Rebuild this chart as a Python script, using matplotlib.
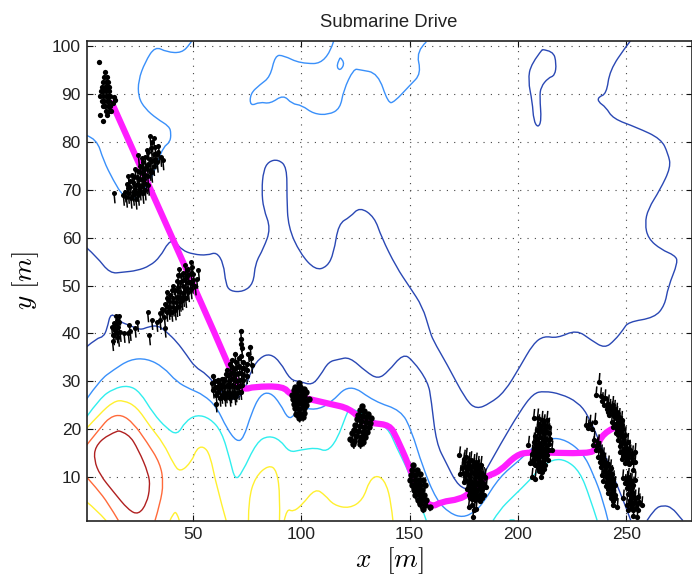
import matplotlib

matplotlib.use("Agg")
import matplotlib.pyplot as plt
from matplotlib.patches import PathPatch
from matplotlib.path import Path

plt.rcParams["font.family"] = ["Liberation Sans", "DejaVu Sans"]
plt.rcParams["mathtext.fontset"] = "cm"

DARK_BLUE = "#2a48b4"
MID_BLUE = "#3a90fa"
CYAN = "#30eeee"
YELLOW = "#fff030"
ORANGE = "#ff6a3a"
DARK_RED = "#b02020"
MAGENTA = "#ff1eff"

X_TICKS = [50, 100, 150, 200, 250]
Y_TICKS = [10, 20, 30, 40, 50, 60, 70, 80, 90, 100]

# contours
BLUE_LOW = [(1, 37.2), (5.7, 39), (8.8, 39.3), (10.5, 41), (12.2, 44.5), (16.5, 42.4), (21, 41.7), (25.7, 40.7), (29.5, 41.4),
            (34, 41.7), (38, 40.3), (42.6, 38.3), (47.2, 35.5), (51, 33), (56.5, 31.5), (61, 28.9), (65.7, 26.8), (70.3, 26.1),
            (74, 28.2), (77, 32.4), (81, 35), (85.7, 35.8), (90.3, 34.1), (95, 30.3), (99.5, 30), (105, 29.2), (108.9, 31.3),
            (112.6, 34.1), (117.2, 34.6), (122.3, 35.1), (130, 32), (135.4, 30.5), (140, 32), (147, 35.8), (151.5, 34.4),
            (158.5, 29.9), (160, 26.1), (162.3, 17.1), (167, 12.9), (171.5, 8.8), (176, 7.4), (180, 7.5), (184, 10.5),
            (192, 17), (200.8, 23.7), (207, 27.5), (212, 28), (219.8, 27.4), (227.5, 25.7), (232.3, 23), (238, 17), (246, 8),
            (250, 3.5), (252, 1)]
BLUE_BUMP = [(259.5, 1), (263, 3.5), (267, 4.2), (271, 3.7), (275, 1.5), (276, 1)]
BLUE_MAIN = [(1, 57.9), (5.7, 56), (11.8, 52.5), (18, 52.8), (24.2, 53.1), (30.3, 54.1), (35, 56), (38.8, 59.1), (41.8, 59.3),
             (44.9, 57.4), (50.3, 56.5), (56.8, 56.3), (61, 57), (64.2, 54.6), (65.2, 50.4), (67.2, 48.8), (73.4, 48.7),
             (78, 50.4), (78.8, 54.6), (82.6, 57.7), (86, 61.9), (82.6, 66), (81.8, 69.9), (82.6, 74), (85, 75.9), (89.5, 76.3),
             (93.4, 74.7), (93.4, 68.5), (94, 62.2), (99.5, 56.7), (106.5, 53.2), (112, 53.9), (115, 56.7), (117.2, 62.9),
             (122.6, 64.3), (127, 66.4), (133.8, 64.3), (137, 60.1), (143.8, 53.9), (150, 49.7), (156, 45.6), (159.2, 40.7),
             (160.8, 38.6), (167, 33.8), (176, 26.1), (180.8, 24.2), (187, 25.4), (193.8, 27.8), (200.8, 33), (207, 37.9),
             (212, 39.5), (218, 39), (227, 40.8), (233.8, 38.6), (240, 36.9), (244.6, 38.6), (248.5, 40.8), (250.8, 42.4),
             (263, 43.3), (267.7, 45.9), (269.2, 49.7), (273.8, 54.9), (272.3, 56.3), (266, 57.5), (260, 59.8), (258.5, 62.9),
             (260, 66), (265.4, 69.9), (270.5, 74.7), (269.2, 77.5), (266, 80.6), (254.6, 83), (243.8, 84.8), (240.5, 87.2),
             (237, 88.3), (237, 89.3), (240.8, 90), (242.3, 94.9), (250, 100), (251.8, 101)]
BLUE_ISLAND = [(211.2, 99.2), (216.2, 99), (217.7, 96.3), (217, 93.8), (213.9, 93.3), (210.5, 91.4), (210, 89.3), (210.8, 84.4),
               (209.2, 82.9), (207.2, 84.4), (206.6, 88.3), (204.6, 92.8), (206, 96.3), (211.2, 99.2)]
MID_LEFT = [(1, 81.3), (5.7, 80.6), (8.8, 76.1), (13.4, 71.9), (18, 68.5), (24, 68), (28, 70), (31.8, 73.3), (34, 76), (36.5, 78.9),
            (39.5, 79.9), (40, 81.7), (39.2, 83.2), (33.4, 84.8), (28, 86.9), (24.9, 89.3), (24.9, 92.8), (28, 96.6), (32.6, 99.9),
            (38, 98.7), (44.9, 98.5), (48.8, 100.4), (49.5, 101)]
MID_TOP = [(115, 101), (111.8, 96.3), (99.5, 96.3), (91.8, 98), (88, 98), (85.7, 93.5), (81, 91.9), (76.5, 90), (76.5, 87.4),
           (81, 88.3), (85.7, 87.9), (91.8, 89.8), (95.7, 87.9), (100.3, 87.6), (105.7, 85.8), (112.6, 85.6), (118, 86.9),
           (119.5, 90.7), (124.2, 95.2), (127, 95), (135.4, 94.3), (140.1, 88), (143, 88.3), (150, 91.7), (155.4, 94.2),
           (153, 98.9), (157.7, 100.8)]
MID_RING = [(118, 97.5), (120.3, 96.6), (118, 94.7), (116, 95.9), (118, 97.5)]
MID_LOW = [(1, 26.3), (7.2, 30.3), (13.4, 32.4), (21, 34.6), (28.8, 34.8), (36.5, 33), (42.6, 29.9), (48.8, 28.4), (55, 27.2),
           (61, 24.7), (65.7, 20.2), (70.3, 17.4), (73.4, 18.1), (77, 23.3), (81, 27.2), (85.7, 27.8), (90.3, 25.4), (94, 22.1),
           (97, 23), (99.5, 24.7), (106.5, 24), (113.4, 25.4), (122.3, 29.6), (133.8, 25.8), (146, 24), (150.8, 19.9), (156, 12.2),
           (162.3, 5.3), (168.5, 2.5), (174.6, 1.6), (180, 2.8), (183.8, 4.6), (191.5, 10.1), (200.8, 13.6), (207, 16.4),
           (214.6, 18.3), (222.3, 17.8), (230, 15), (234.6, 10.8), (239.2, 5.3), (241.5, 1)]
CYAN_LEFT = [(1, 22.6), (7.2, 26.5), (13.4, 28.5), (20.3, 29.2), (25.7, 27.8), (31.8, 23.3), (38, 20.2), (42.9, 18.8), (46.5, 21.6),
             (51.8, 23.1), (58, 22.3), (63.4, 19.5), (67.2, 13.6), (69.5, 9.4), (72.6, 10.8), (79.5, 17.4), (85, 18.7), (90.3, 17.8),
             (94.6, 15.2), (99.5, 15.7), (107.2, 16.2), (111.8, 15.3), (116.5, 17.8), (121, 23.3), (122.6, 24.7), (131.5, 22.3),
             (140, 20.4), (143.8, 16.4), (150, 10.8), (156, 3.2), (157.7, 1)]
CYAN_RIGHT = [(188.5, 1), (191.5, 3.2), (197.7, 6), (205.4, 9.4), (210, 11.9), (216.2, 13.8), (222.3, 13.6), (228.5, 11.2), (233, 6),
              (236.5, 1)]
CYAN_TINY = [(196, 1), (197.2, 1.3), (198.5, 1)]
YELLOW_LEFT = [(1, 20.2), (7.2, 23.3), (13.4, 25.8), (18, 26.1), (24.2, 24.7), (30.3, 20.6), (36.5, 17.1), (41, 12.9), (44.2, 11),
               (49.5, 13.3), (51.8, 16), (55, 16.5), (58, 14.7), (61, 8.1), (65.4, 1)]
YELLOW_CORNER = [(1, 4.9), (5.7, 3.2), (10, 1)]
YELLOW_SMALL = [(39.5, 1), (41, 2.5), (42.6, 2.8), (43.8, 1)]
YELLOW_MID = [(75.7, 1), (75.7, 5.3), (78.8, 10.1), (85, 12.6), (88.8, 11.5), (90.3, 6), (90, 1)]
YELLOW_RIGHT = [(92.2, 1), (93.4, 3.5), (96.2, 2.8), (100.3, 4.2), (106.5, 7.7), (111, 6.3), (115, 4.2), (122.3, 3.5), (128.5, 5.3),
                (131.5, 9.4), (135.4, 10.5), (139.2, 8.8), (141.5, 4.6), (142.3, 1)]
ORANGE_TOP = [(1, 16.7), (7.2, 20.2), (11.8, 22.6), (17.2, 23.1), (22.6, 21.3), (28.8, 17.4), (35, 12.9), (36.5, 8.8), (35, 4.6),
              (32.6, 1)]
ORANGE_LOW = [(1, 10.1), (5.7, 7.7), (11, 4.6), (15.7, 1)]
RED_RING = [(15.7, 19.7), (20.3, 19.2), (25, 15.7), (29.6, 10.8), (30.3, 8), (28.8, 4.6), (25, 2.2), (20.3, 3.2), (13.4, 7), (7.2, 10.5),
            (4.5, 13.6), (5, 16.4), (10.4, 18.8), (15.7, 19.7)]

# the driven track
TRACK = [(12.8, 88), (53.4, 47), (66.5, 33.4), (70, 29.6), (74, 28.3), (78, 28.9), (91.8, 29), (95, 27.2), (104, 26.3), (113.4, 25.3),
         (122.3, 24.4), (128.5, 21.6), (133, 21.3), (140.8, 20.9), (143.8, 18.5), (150, 12.2), (153.8, 6.7), (160, 3.7), (164.6, 4.9),
         (173, 5.4), (177.7, 6.7), (184.6, 10.1), (191.5, 11.2), (199.2, 14.7), (205.4, 15.3), (233, 14.9), (236, 16), (239.2, 19.2),
         (243.8, 20.2)]

CLOUD_1 = [(9.5, 94.5), (9.2, 93.5), (10.3, 93.5), (8.6, 92.5), (9.8, 92.5), (10.9, 92.5), (8.2, 91.5), (9.4, 91.5), (10.6, 91.5),
           (11.3, 91.5), (7.6, 90.5), (8.8, 90.5), (10, 90.5), (11.2, 90.5), (7.4, 89.5), (8.6, 89.5), (9.8, 89.5), (11, 89.5), (12, 89.5),
           (8, 88.5), (9.2, 88.5), (10.4, 88.5), (11.6, 88.5), (8.4, 87.5), (9.6, 87.5), (10.8, 87.5), (12, 87.5), (10.2, 86.5), (11.5, 86.5),
           (12.4, 86.5), (6.6, 96.6), (13.8, 89.4), (14.2, 88.6), (13.2, 88), (7.2, 85.5), (10.3, 85.5), (8.5, 84.4)]
CLOUD_2 = [(30.3, 81.1), (31.9, 80.8), (31.1, 79.9), (34.2, 79.2), (32.6, 78.9), (29.5, 77.8), (31.9, 77.5), (34.2, 77.8), (28, 76.8),
           (30.3, 76.4), (32.6, 76.4), (35.2, 76.9), (36.2, 76.2), (24.9, 77.3), (27.2, 75.8), (29.5, 75.4), (31.9, 75), (25.7, 75),
           (28, 74.4), (30.3, 74), (23.4, 74.4), (25.7, 73.7), (28, 73), (21.9, 73), (24.2, 72.6), (26.5, 72.3), (20.3, 72.8), (22.6, 71.6),
           (24.9, 71.2), (27.2, 71.2), (29.5, 70.9), (19.6, 71.2), (21.1, 70.5), (23.4, 70.2), (25.7, 69.9), (28, 69.9), (18.8, 69.5),
           (20.3, 69.2), (22.6, 68.8), (24.9, 68.8), (18, 68.8), (13.7, 69.3),
           (26.5, 76.5), (28.8, 78.2), (30.9, 78.6), (33.4, 77.4), (26.6, 74.7), (29, 75), (31, 76), (33.6, 75.7), (24.6, 73.8), (26.9, 73.6),
           (29.2, 72.8), (31, 73.6), (22.8, 72.6), (25.1, 72.3), (27.4, 72.2), (20.9, 71.9), (23.8, 71), (26.2, 70.8), (28.6, 71.2), (20.3, 70.4),
           (22.3, 69.6), (24.6, 69.6), (27, 69.2), (19.4, 68.4), (21.5, 68.2), (23.8, 68)]
CLOUD_3 = [(49.2, 54.9), (46.5, 54.2), (43.7, 53.5), (49.8, 53.9), (52.6, 53.2), (47.2, 53.2), (44.6, 52.1), (43.1, 52.1), (48, 52.1),
           (50.3, 52.5), (46.5, 51.4), (51.8, 51.4), (48.8, 50.7), (44.2, 50.7), (41.1, 50), (45.7, 50), (51.1, 50), (41.9, 49), (44.2, 48.7),
           (47.2, 49.4), (38, 48.7), (39.5, 48), (42.6, 47.6), (45.7, 47.6), (38, 47.3), (41.1, 46.6), (44.2, 46.6), (37.2, 46.2), (39.5, 45.5),
           (42.6, 45.5), (35.7, 45.2), (38, 44.5), (40.3, 44.5), (34.9, 44.2), (36.9, 43.5), (41.9, 44.8), (29.2, 44.4), (33.4, 42.4),
           (31.1, 42.8), (34.9, 42.8), (37.2, 41.2), (30, 39.6), (24.5, 42.4), (20.8, 41.7), (23.4, 41.2), (21.1, 40.5), (20.3, 40),
           (18.3, 40.1), (16.2, 43.7), (14.9, 42.8), (13.9, 42.1), (12.6, 41.4), (15.4, 41.4), (14.2, 40.7), (16.5, 40.3), (13.4, 39.6),
           (13, 38.4), (15.7, 39.3),
           (47.6, 53.5), (45.5, 52.6), (49.2, 52.7), (46.9, 51.9), (50.3, 51.2), (42.9, 51), (45.4, 51.1), (47.7, 50.7), (49.7, 50.4), (43.3, 49.8),
           (46.4, 49.2), (49.2, 49.2), (40.3, 49), (43, 48.8), (45.5, 48.5), (48, 48.6), (40.8, 47.5), (43.9, 47.7), (46.7, 47.4), (39.1, 46.7),
           (42.4, 46.6), (45, 46.9), (37.9, 45.8), (41, 45.6), (43.6, 45.7), (36.5, 44.8), (39, 44.9), (14.2, 41.9), (15.8, 42.4), (13.6, 41),
           (15, 40), (14.8, 43.6)]
CLOUD_4 = [(72.1, 40.5), (72.3, 38.9), (72.3, 37.9), (72.6, 36.9), (76.5, 37.2), (75.7, 35.8), (76.9, 34.8), (77.2, 33.4), (69.5, 35.8),
           (68, 34.4), (71.1, 34.8), (73.4, 34.1), (74.9, 33.7), (65.7, 32.4), (68, 33), (70.3, 33), (72.6, 32.7), (74.9, 32.4), (66.5, 31.3),
           (68.8, 31.7), (71.1, 31.7), (73.4, 31.3), (64.2, 30.6), (67.2, 30.3), (69.5, 30.3), (71.8, 30.3), (59.5, 31.2), (61.8, 30.3),
           (63.7, 30.6), (58.8, 29.6), (61.1, 28.9), (63.4, 29.2), (65.7, 29.2), (68, 29.2), (70.3, 28.9), (72.6, 29.2), (59.5, 28.2),
           (61.8, 27.9), (64.2, 27.9), (66.5, 27.9), (68.8, 27.9), (71.1, 27.9), (62.6, 26.5), (64.9, 26.5), (67.2, 26.5), (69.5, 26.8),
           (60.8, 25.3),
           (69.8, 34), (72.2, 35.3), (67.2, 33.6), (69.2, 32.5), (71.5, 33.2), (73.8, 32.9), (65.4, 31.6), (67.6, 31.8), (70, 31.5), (72.4, 31.7),
           (74.8, 31.2), (62.2, 29.6), (64.6, 30), (66.7, 30), (68.7, 30.8), (70.6, 30), (73, 30.4), (60.2, 30), (60.4, 28.9), (62.6, 28.7),
           (64.5, 28.8), (66.9, 28.8), (69.1, 28.9), (71.4, 29), (60.8, 27.2), (63.4, 27.1), (65.5, 27.2), (67.6, 27.2), (70, 27.4), (72.2, 27.9)]
CLOUD_5 = [(98.8, 29.6), (97.2, 28.9), (99.5, 28.9), (101.1, 28.5), (96.5, 28.2), (98.3, 28), (100.3, 27.8), (102.3, 27.7), (95.7, 27.1),
           (97.7, 27.1), (99.5, 27), (101.4, 27), (103.4, 26.4), (96.1, 26.3), (98, 26.1), (99.8, 26.1), (101.8, 25.9), (96.5, 25.4), (98.3, 25.2),
           (100.3, 25.2), (102.3, 25.1), (97.2, 24.4), (99.2, 24.2), (101.1, 24.4), (97.7, 23.3), (99.5, 23.3), (101.4, 23.5), (99.2, 22.4),
           (100.8, 22.6)]
CLOUD_6 = [(128, 24.9), (126.9, 24), (129.1, 23.8), (130.6, 23.3), (126, 23.1), (128, 22.8), (130, 22.6), (132.1, 22.3), (125.7, 22.1),
           (127.7, 21.8), (129.7, 21.6), (131.8, 21.4), (124.9, 21), (126.9, 20.8), (129.1, 20.5), (131.1, 20.5), (124.4, 19.9), (126.4, 19.6),
           (128.4, 19.5), (130.3, 19.5), (123.4, 19.2), (125.4, 18.7), (127.5, 18.5), (129.5, 18.5), (122.6, 18.1), (124.4, 17.6), (126.9, 17.6),
           (128.7, 17.4), (124.1, 16.9), (127.2, 16.9)]
CLOUD_7 = [(151.5, 12.6), (151, 11.5), (153.4, 11.5), (150.6, 10.5), (152.6, 10.5), (154.9, 10.6), (150.3, 9.4), (152.3, 9.4), (154.3, 9.4),
           (156.4, 9.4), (151, 8.4), (153, 8.4), (155, 8.4), (156.9, 8.4), (151.8, 7.4), (153.8, 7.4), (155.8, 7.4), (152.6, 6.3), (154.6, 6.3),
           (156.6, 6.3), (153.7, 5.3), (155.7, 5.3), (157.7, 5.3), (154.9, 4.4), (156.9, 4.2), (159.2, 3.9), (156.1, 3.5)]
CLOUD_8 = [(173, 14.6), (176.1, 14.3), (178.2, 13.6), (180.7, 13.3), (182.9, 12.6), (174.9, 13.3), (177.2, 12.6), (179.5, 12.2), (181.8, 11.9),
           (174.1, 11.9), (176.4, 11.5), (178.7, 11.2), (181, 10.8), (183.3, 10.8), (173.3, 10.7), (175.6, 10.3), (177.9, 10), (180.2, 9.8),
           (182.5, 9.6), (184.8, 10), (174.9, 9.1), (177.2, 8.7), (179.5, 8.6), (181.8, 8.4), (184.1, 8.7), (176.4, 7.5), (178.7, 7.4), (181, 7.4),
           (183.3, 7.5), (185.3, 7.9), (177.2, 6.3), (179.5, 6.1), (181.8, 6.1), (184.1, 6.3), (180.2, 5.3), (182.5, 5.1), (178.7, 4.2), (177.2, 3.8),
           (180.7, 3.5), (179.8, 3.2), (179.2, 1.8), (177.9, 5.6),
           (175.2, 13.9), (177.4, 13.4), (179.6, 13), (181.6, 12.6), (175.5, 12.4), (178, 12), (180.4, 11.5), (182.5, 11.2), (174.8, 11), (177, 10.7),
           (179.5, 10.6), (182, 10.3), (184, 10.3), (176, 9.5), (178.3, 9.2), (180.7, 9), (183.1, 9.1), (177.5, 8), (179.8, 7.9), (182.4, 7.8),
           (184.5, 8), (178, 6.9), (180.3, 6.7), (182.7, 6.7), (178.8, 5.4), (181.2, 5.6), (183.3, 5.6)]
CLOUD_9 = [(207.2, 22.3), (211, 21.9), (213.3, 21.9), (209.5, 21.2), (211.8, 20.9), (214.1, 20.5), (208.7, 19.9), (211, 19.7), (213.3, 19.5),
           (207.9, 18.6), (210.2, 18.5), (212.5, 18.3), (214.8, 18.1), (207.2, 17.4), (209.5, 17.2), (211.8, 17.1), (214.1, 16.9), (204.8, 16.7),
           (207.2, 16), (209.5, 16), (211.8, 15.8), (214.1, 15.7), (215.6, 15.7), (206.4, 14.9), (208.7, 14.9), (211, 14.6), (213.3, 14.6),
           (206.8, 13.7), (209, 13.6), (211.5, 13.5), (213.6, 13.6), (205.6, 13), (207.9, 12.6), (210.2, 12.4), (212.5, 12.6), (209.9, 11.4),
           (211.8, 11.7), (206.4, 10), (207.9, 9.7), (210.5, 10),
           (209, 22.4), (212, 21.2), (210.3, 20.5), (212.5, 20.2), (209.9, 19.2), (212, 19), (214.2, 19.3), (208.8, 18), (211.3, 17.8), (213.6, 17.7),
           (208.3, 16.8), (210.6, 16.6), (213, 16.4), (208.3, 15.4), (210.6, 15.2), (212.9, 15.2), (207.6, 14.3), (209.9, 14.3), (212.2, 14), (206.8, 13),
           (209, 13), (211.3, 12.9), (209, 12), (211, 11.2)]
CLOUD_10 = [(237.4, 29.9), (236, 27.1), (238.1, 26.9), (240.1, 26.5), (241.7, 25.4), (239.7, 25.1), (243.7, 25.1), (240.9, 24.2), (243.2, 24),
            (245.5, 23.7), (242.1, 23), (244.3, 22.8), (246.7, 22.6), (247.8, 22), (243.2, 21.6), (245.5, 21.4), (247.8, 20.9), (244, 20.5),
            (246.3, 20.2), (248.6, 20), (245.2, 19.2), (247.4, 18.8), (249.5, 18.8), (246.3, 17.8), (248.6, 17.6), (250.6, 17.4), (247, 16.5),
            (249.4, 16.2), (251.4, 16), (247, 15.3), (249.4, 15.1), (251.7, 15), (254, 15.3), (247.8, 13.8), (250.1, 14), (252.4, 14), (249.4, 12.9),
            (251.4, 12.8), (254, 13.3), (231.4, 20.9), (233.2, 21.2), (235.5, 21.6), (232.4, 20.2), (234, 20), (235.1, 17.8), (237.1, 17.1),
            (234.8, 16.7), (237.8, 15.7), (236, 15.7), (237.1, 14.3), (239.4, 14.4), (237.8, 13.3), (240.1, 13.3), (238.1, 12.1), (240.6, 12.1),
            (242.7, 11.9), (238.6, 10.5), (240.9, 10.7), (243.2, 10.7), (239.4, 9.3), (241.7, 9.4), (244, 9.6), (240.6, 8.1), (242.7, 8.2), (244.7, 8.4),
            (241.7, 6.8), (243.7, 7), (242.7, 5.6), (244.7, 5.6), (244, 4.2), (245.8, 3.8), (248.3, 9.8), (250.9, 10.1), (253.2, 11.5), (249.4, 8.8),
            (251.7, 9.1), (254, 9.4), (250.1, 7.7), (252.4, 7.9), (248.6, 5.6), (250.9, 6.5), (253.2, 6.8), (251.7, 5.3), (254, 5.6), (255.5, 6),
            (250.1, 4.2), (252.4, 4.2), (254.7, 4.4), (257.1, 4.2), (250.9, 3.2), (253.2, 3.2), (255.5, 3.2), (253.2, 2), (255, 1.8),
            (238.9, 25.9), (241, 25), (242.4, 24.5), (244.5, 24.3), (241.6, 23.6), (243.7, 23.4), (245.6, 23), (245, 22.3), (246.8, 21.7), (244.3, 21.1),
            (246.6, 20.9), (245.5, 20), (247.5, 19.6), (246.3, 18.9), (248.3, 18.4), (247.4, 17.2), (249.5, 17), (248.2, 15.8), (250.4, 15.7), (248.5, 14.5),
            (250.7, 14.6), (252.8, 14.8), (250.4, 13.3), (252.6, 13.3), (236.5, 16.5), (238.5, 15), (238.7, 13.8), (239.2, 12.7), (241.7, 12.7), (239.7, 11.4),
            (242, 11.3), (240.4, 10), (242.5, 10), (241, 8.8), (243.4, 9), (241.7, 7.5), (243.6, 7.7), (242.7, 6.3), (244.6, 6.4), (243.8, 5),
            (250.3, 9.5), (252.3, 9), (251, 8.3), (253.2, 8.3), (251.9, 7.3), (252, 6.2), (253, 5.9), (251.5, 4.7), (253.6, 4.8), (255.9, 4.8),
            (252.1, 3.7), (254.4, 3.7)]

# (cloud, heading x, heading y, dot size)
CLOUDS = [
    (CLOUD_1, 0.0, -0.2, 3.8),
    (CLOUD_2, 0.4, -2.0, 3.6),
    (CLOUD_3, 0.4, -1.9, 3.6),
    (CLOUD_4, 0.3, -1.6, 3.8),
    (CLOUD_5, 0.1, -0.8, 4.6),
    (CLOUD_6, 0.2, -0.8, 4.6),
    (CLOUD_7, 0.2, -0.8, 4.6),
    (CLOUD_8, 0.4, 1.7, 3.8),
    (CLOUD_9, 0.4, 1.8, 3.8),
    (CLOUD_10, 0.3, 1.7, 3.8),
]

CONTOURS = [
    (BLUE_LOW, DARK_BLUE), (BLUE_BUMP, DARK_BLUE), (BLUE_MAIN, DARK_BLUE), (BLUE_ISLAND, DARK_BLUE),
    (MID_LEFT, MID_BLUE), (MID_TOP, MID_BLUE), (MID_RING, MID_BLUE), (MID_LOW, MID_BLUE),
    (CYAN_LEFT, CYAN), (CYAN_RIGHT, CYAN), (CYAN_TINY, CYAN),
    (YELLOW_LEFT, YELLOW), (YELLOW_CORNER, YELLOW), (YELLOW_SMALL, YELLOW), (YELLOW_MID, YELLOW), (YELLOW_RIGHT, YELLOW),
    (ORANGE_TOP, ORANGE), (ORANGE_LOW, ORANGE), (RED_RING, DARK_RED),
]


def smooth_path(points: list[tuple[float, float]]) -> Path:
    # quadratic curves with the read points as control points, so corners round off
    verts = [points[0]]
    codes = [Path.MOVETO]
    for i in range(1, len(points) - 1):
        x0, y0 = points[i]
        x1, y1 = points[i + 1]
        end = points[i + 1] if i == len(points) - 2 else ((x0 + x1) / 2, (y0 + y1) / 2)
        verts += [points[i], end]
        codes += [Path.CURVE3, Path.CURVE3]
    return Path(verts, codes)


def main() -> None:
    fig = plt.figure(figsize=(6.92, 5.81), dpi=100)
    ax = fig.add_axes([86.5 / 692, 1 - 520.5 / 581, (691.5 - 86.5) / 692, (520.5 - 41) / 581])

    for points, color in CONTOURS:
        ax.add_patch(PathPatch(smooth_path(points), fill=False, edgecolor=color, lw=1.0, zorder=2))

    ax.add_patch(PathPatch(smooth_path(TRACK), fill=False, edgecolor=MAGENTA, lw=4.5, capstyle="round", zorder=3))

    for cloud, dx, dy, size in CLOUDS:
        xs, ys = zip(*cloud)
        for x, y in cloud:
            ax.plot([x, x + dx], [y, y + dy], color="black", lw=1.1, zorder=4)
        ax.plot(xs, ys, "o", color="black", ms=size, mew=0, zorder=5)

    ax.set_xlim(1, 280)
    ax.set_ylim(1, 101)
    ax.set_xticks(X_TICKS)
    ax.set_yticks(Y_TICKS)
    ax.tick_params(direction="in", top=True, right=True, length=4, width=0.8, labelsize=12.5, color="#111111", labelcolor="#222222")
    ax.tick_params(axis="x", pad=5)
    ax.tick_params(axis="y", pad=4)
    ax.grid(True, color="#444444", lw=0.8, ls=(0, (1, 5.6)))
    ax.set_axisbelow(True)
    for spine in ax.spines.values():
        spine.set_linewidth(1.2)
        spine.set_color("#222222")

    ax.set_title("Submarine Drive", fontsize=13.3, pad=10.3, color="#222222")
    ax.set_xlabel(r"$x\ \ [m]$", fontsize=19.5, labelpad=2)
    ax.set_ylabel(r"$y\ [m]$", fontsize=19.5, labelpad=8)

    fig.savefig("out.png", dpi=100)
    plt.close(fig)


if __name__ == "__main__":
    main()
